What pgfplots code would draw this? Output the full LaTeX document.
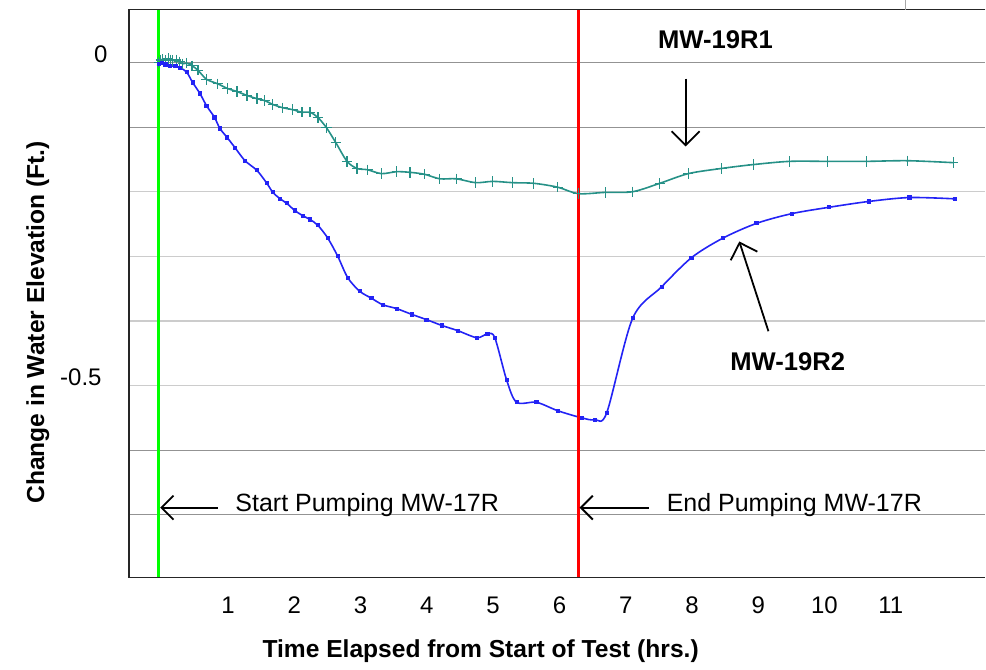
\documentclass[border=0pt]{standalone}
\usepackage{fontspec}
\setmainfont{Liberation Sans}
\usepackage{pgfplots}
\pgfplotsset{compat=1.18}
\usetikzlibrary{arrows.meta}

\definecolor{tealline}{RGB}{38,145,135}
\definecolor{blueline}{RGB}{35,35,245}

% MW-19R1, change in water elevation (ft) vs hours
\pgfplotstableread{
t      dh
0.00   0.000
0.03   0.004
0.06   0.005
0.10   0.003
0.14   0.006
0.18   0.004
0.21   0.003
0.26   0.004
0.31   0.001
0.36  -0.002
0.42  -0.001
0.50  -0.005
0.59  -0.012
0.72  -0.026
0.89  -0.033
1.03  -0.040
1.18  -0.045
1.33  -0.051
1.48  -0.056
1.60  -0.059
1.72  -0.065
1.87  -0.070
2.02  -0.073
2.16  -0.077
2.28  -0.077
2.40  -0.085
2.53  -0.101
2.67  -0.124
2.84  -0.153
2.99  -0.164
3.15  -0.166
3.36  -0.172
3.59  -0.169
3.79  -0.170
4.01  -0.173
4.24  -0.180
4.49  -0.180
4.78  -0.186
5.04  -0.184
5.34  -0.186
5.66  -0.187
6.02  -0.193
6.33  -0.203
6.74  -0.201
7.15  -0.200
7.56  -0.187
7.99  -0.172
8.49  -0.164
8.97  -0.158
9.52  -0.153
10.09 -0.153
10.68 -0.153
11.30 -0.152
11.99 -0.155
}\mwone

% MW-19R2
\pgfplotstableread{
t      dh
0.00  -0.002
0.05  -0.001
0.10  -0.003
0.17  -0.005
0.25  -0.006
0.32  -0.008
0.42  -0.015
0.51  -0.031
0.62  -0.048
0.72  -0.067
0.84  -0.085
0.92  -0.102
1.03  -0.116
1.15  -0.132
1.30  -0.152
1.48  -0.167
1.63  -0.187
1.72  -0.201
1.83  -0.211
1.93  -0.218
2.05  -0.229
2.17  -0.237
2.28  -0.243
2.40  -0.252
2.55  -0.272
2.70  -0.300
2.85  -0.333
3.03  -0.354
3.21  -0.365
3.38  -0.375
3.59  -0.381
3.82  -0.390
4.04  -0.398
4.27  -0.407
4.51  -0.415
4.80  -0.426
4.96  -0.420
5.07  -0.426
5.25  -0.492
5.40  -0.526
5.70  -0.526
6.02  -0.539
6.38  -0.550
6.58  -0.553
6.76  -0.542
7.15  -0.396
7.59  -0.347
8.04  -0.302
8.51  -0.272
9.02  -0.249
9.55  -0.234
10.12 -0.224
10.72 -0.215
11.33 -0.209
12.01 -0.211
}\mwtwo

\begin{document}
\begin{tikzpicture}
\begin{axis}[
    scale only axis,
    width=428.5pt, height=284pt,
    xmin=-0.4525, xmax=12.473,
    ymin=-0.797, ymax=0.0816,
    clip=false,
    axis line style={draw=none},
    major tick length=0pt,
    xtick={1,2,3,4,5,6,7,8,9,10,11},
    xticklabels={1,2,3,4,5,6,7,8,9,10,11},
    xticklabel style={font=\fontsize{12}{14}\selectfont, anchor=base, inner sep=0pt, yshift=-18pt, xshift=1.5pt},
    ytick={0,-0.1,-0.2,-0.3,-0.4,-0.5,-0.6,-0.7},
    yticklabels={0,,,,,-0.5\kern3pt,,},
    yticklabel style={font=\fontsize{12}{14}\selectfont, anchor=base east, inner sep=0pt, xshift=-10.5pt},
    ymajorgrids,
    major grid style={gray!40, line width=0.6pt},
    extra y ticks={0,-0.1,-0.6,-0.7},
    extra y tick labels={},
    extra y tick style={major grid style={gray!85, line width=0.6pt}},
    /pgf/number format/assume math mode=true,
    xlabel={\bfseries Time Elapsed from Start of Test (hrs.)},
    xlabel style={font=\fontsize{12.3}{14}\selectfont, at={(axis description cs:0.4107,0)}, anchor=base, yshift=-40pt},
    ylabel={\bfseries Change in Water Elevation (Ft.)},
    ylabel style={font=\fontsize{12.3}{14}\selectfont, at={(axis description cs:-0.099,0.449)}, anchor=base, rotate=0},
]
% frame: left, bottom, top (right side open)
\draw[black!85, line width=0.7pt] (rel axis cs:1,1) -- (rel axis cs:0,1) -- (rel axis cs:0,0) -- (rel axis cs:1,0);
\draw[gray!70, line width=0.5pt] (axis cs:11.27,0.0816) -- (axis cs:11.27,0.096);

\addplot[tealline, line width=0.8pt, smooth, tension=0.5, mark=+, mark size=2.6pt,
    mark options={line width=0.6pt}] table[x=t, y=dh] {\mwone};
\addplot[blueline, line width=0.8pt, smooth, tension=0.5, mark=square*, mark size=0.65pt] table[x=t, y=dh] {\mwtwo};

% pumping start / end
\draw[green, line width=1.5pt] (axis cs:0,-0.797) -- (axis cs:0,0.0816);
\draw[red, line width=1.5pt] (axis cs:6.33,-0.797) -- (axis cs:6.33,0.0816);

\draw[-{Straight Barb[length=6pt,width=12pt]}, line width=0.9pt] (axis cs:0.89,-0.689) -- (axis cs:0.02,-0.689);
\node[anchor=base west, inner sep=0pt, font=\fontsize{12.5}{14}\selectfont] at (axis cs:1.15,-0.695) {Start Pumping MW-17R};
\draw[-{Straight Barb[length=6pt,width=12pt]}, line width=0.9pt] (axis cs:7.39,-0.689) -- (axis cs:6.35,-0.689);
\node[anchor=base west, inner sep=0pt, font=\fontsize{12.5}{14}\selectfont] at (axis cs:7.66,-0.695) {End Pumping MW-17R};

\node[anchor=base, inner sep=0pt, font=\bfseries\fontsize{12.8}{14}\selectfont] at (axis cs:8.40,0.0217) {MW-19R1};
\draw[-{Straight Barb[length=7pt,width=14pt]}, line width=0.9pt] (axis cs:7.95,-0.025) -- (axis cs:7.95,-0.130);
\node[anchor=base, inner sep=0pt, font=\bfseries\fontsize{12.8}{14}\selectfont] at (axis cs:9.49,-0.477) {MW-19R2};
\draw[-{Straight Barb[length=7pt,width=14pt]}, line width=0.9pt] (axis cs:9.20,-0.416) -- (axis cs:8.76,-0.277);
\end{axis}
\path (current axis.south west) ++(-64.5pt,-44pt) rectangle ++(493pt,332.5pt);
\end{tikzpicture}
\end{document}
